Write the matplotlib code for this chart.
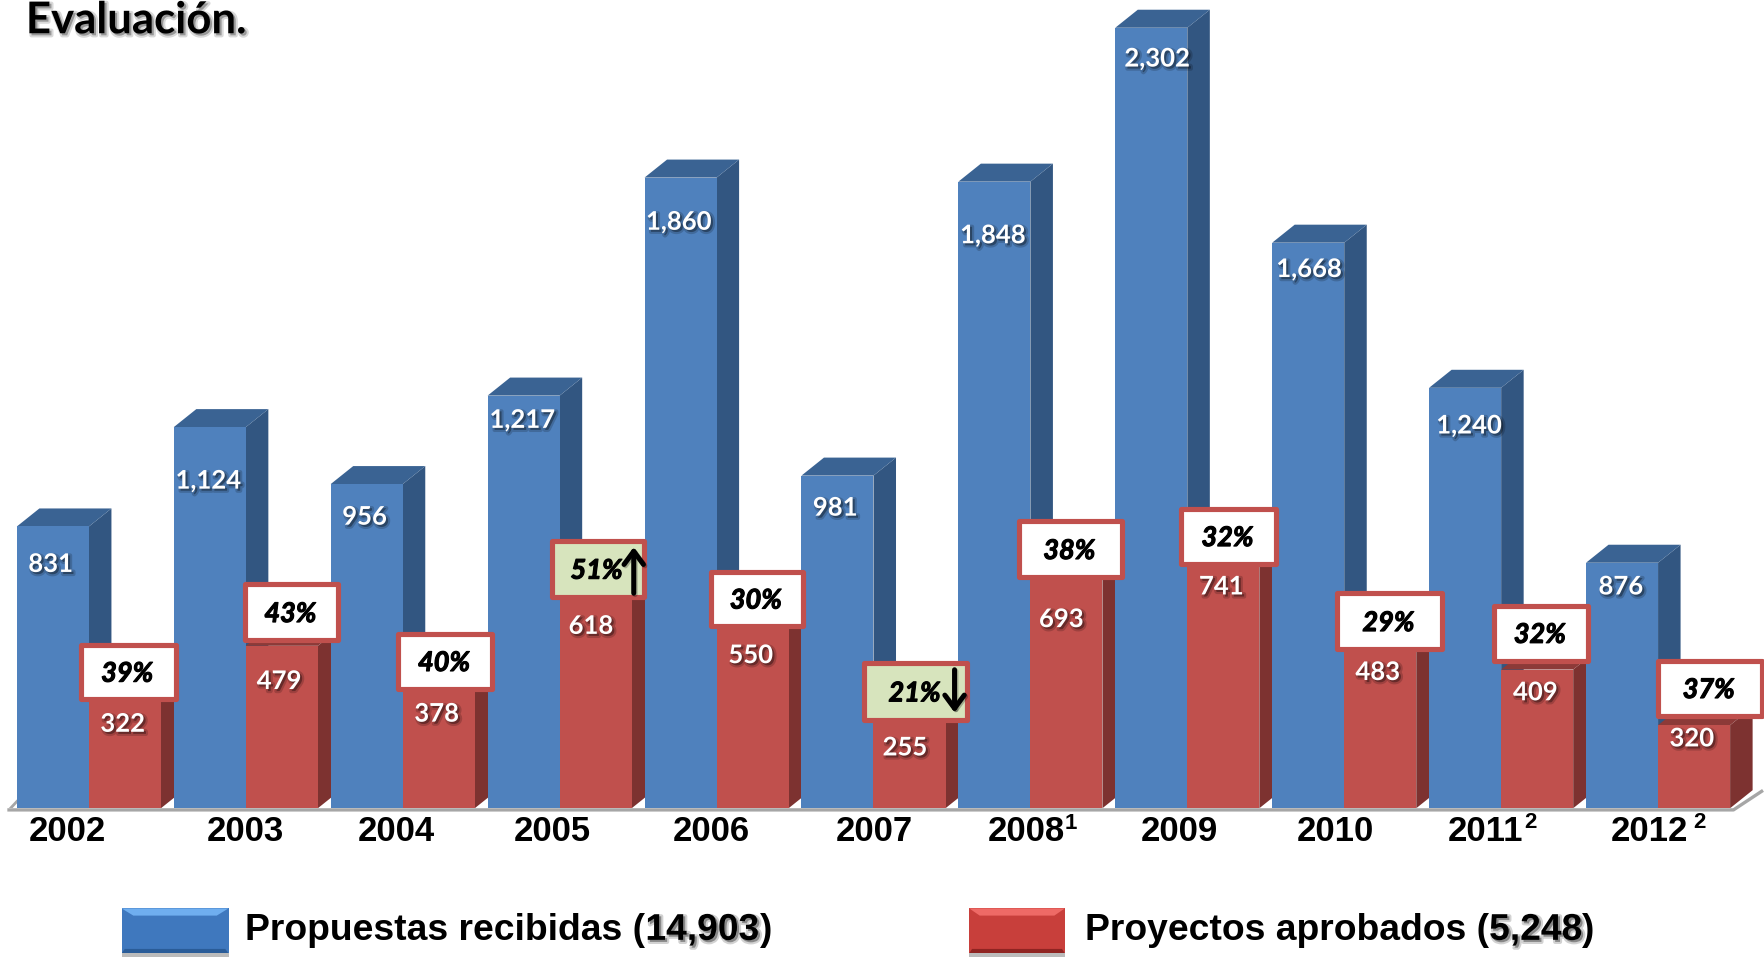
import matplotlib
matplotlib.use('Agg')
import matplotlib.pyplot as plt
import matplotlib.patheffects as pe
from matplotlib.patches import Polygon, Rectangle

years = ['2002', '2003', '2004', '2005', '2006', '2007', '2008', '2009', '2010', '2011', '2012']
propuestas = [831, 1124, 956, 1217, 1860, 981, 1848, 2302, 1668, 1240, 876]
aprobados = [322, 479, 378, 618, 550, 255, 693, 741, 483, 409, 320]
porcentajes = ['39%', '43%', '40%', '51%', '30%', '21%', '38%', '32%', '29%', '32%', '37%']

# in the original the 2012 bars are shorter than their labels say
altura_propuestas = [831, 1124, 956, 1217, 1860, 981, 1848, 2302, 1668, 1240, 724]
altura_aprobados = [322, 479, 378, 618, 550, 255, 693, 741, 483, 409, 245]

# layout, pixels of the 1568 wide view
S = 1765 / 1568
PITCH = 139.4
X0 = 79
Y0 = 718
UNIT = 0.3012
blue_lab = [(45, 501), (185, 427), (324, 459), (464, 373), (603, 197), (742, 451), (882, 209), (1028, 52), (1163, 239), (1305, 378), (1440, 521)]
red_lab = [(109, 643), (248, 605), (388, 634), (525, 556), (667, 582), (804, 664), (943, 550), (1085, 521), (1224, 597), (1364, 615), (1503, 656)]
boxes = [(72, 156, 573, 621), (218, 300, 519, 569), (354, 437, 563, 612), (490, 572, 481, 530), (632, 713, 508, 556),
         (768, 859, 589, 640), (905, 997, 463, 513), (1049, 1134, 452, 501), (1188, 1281, 527, 577), (1327, 1411, 538, 587), (1473, 1565, 587, 636)]
year_x = [60, 218, 352, 491, 632, 777, 912, 1048, 1186, 1320, 1465]

BLUE, BLUE_SIDE, BLUE_TOP = '#4F81BD', '#325681', '#3A6393'
RED, RED_SIDE, RED_TOP = '#C0504D', '#7D3230', '#8C3A38'
GREEN = '#D7E4BD'
W = 64 / PITCH
DX = 20 / PITCH
DY = 16 / UNIT
SANS = 'Liberation Sans'
CAL = 'Lato'


def dx(px):
    return (px - X0) / PITCH


def dy(py):
    return (Y0 - py) / UNIT


def shadow(color='k', a=0.35):
    return [pe.SimpleLineShadow(offset=(1.5, -1.5), shadow_color=color, alpha=a * 0.5, linewidth=3),
            pe.SimplePatchShadow(offset=(1.5, -1.5), shadow_rgbFace=color, alpha=a),
            pe.Normal()]


fig = plt.figure(figsize=(17.65, 9.58), dpi=100)
ax = fig.add_axes([0, 1 - Y0 * S / 958, 1, Y0 * S / 958])
ax.set_xlim(dx(0), dx(1568))
ax.set_ylim(0, dy(0))
for s in ax.spines.values():
    s.set_visible(False)
ax.set_yticks([])


def bar3d(x, h, front, side, top, z):
    ax.bar(x, h, W, align='edge', color=front, zorder=z + 0.2)
    ax.add_patch(Polygon([(x + W, 0), (x + W + DX, DY), (x + W + DX, h + DY), (x + W, h)], color=side, lw=0, zorder=z))
    ax.add_patch(Polygon([(x, h), (x + DX, h + DY), (x + W + DX, h + DY), (x + W, h)], color=top, lw=0, zorder=z + 0.1))


for i in range(len(years)):
    bar3d(i - W, altura_propuestas[i], BLUE, BLUE_SIDE, BLUE_TOP, 2 + i)
    bar3d(i, altura_aprobados[i], RED, RED_SIDE, RED_TOP, 2.5 + i)

# floor
ax.plot([dx(8), dx(1540), dx(1565)], [dy(719.5), dy(719.5), dy(703)], color='#A6A6A6', lw=2.4, clip_on=False, zorder=20)
ax.plot([dx(8), dx(15)], [dy(719.5), dy(712)], color='#A6A6A6', lw=2, zorder=1)

for i in range(len(years)):
    bx, by = blue_lab[i]
    ax.text(dx(bx), dy(by), f'{propuestas[i]:,}', color='white', fontsize=18.5, fontweight='bold', family=CAL,
            ha='center', va='center', zorder=30, path_effects=shadow())
    rx, ry = red_lab[i]
    ax.text(dx(rx), dy(ry), f'{aprobados[i]:,}', color='white', fontsize=18.5, fontweight='bold', family=CAL,
            ha='center', va='center', zorder=30, path_effects=shadow())
    x1, x2, y1, y2 = boxes[i]
    face = GREEN if porcentajes[i] in ('51%', '21%') else 'white'
    ax.add_patch(Rectangle((dx(x1), dy(y2)), dx(x2) - dx(x1), dy(y1) - dy(y2), facecolor=face, edgecolor=RED, lw=3.7,
                           joinstyle='round', zorder=25, clip_on=False))
    ax.text(dx((x1 + x2) / 2 - 1), dy((y1 + y2) / 2 + 1.5), porcentajes[i], color='black', fontsize=19.5, fontweight='bold',
            fontstyle='italic', family=CAL, ha='center', va='center', zorder=30,
            path_effects=[pe.withStroke(linewidth=0.8, foreground='black')])

# arrows on the highest and lowest share
arrow = dict(arrowstyle='->,head_length=0.95,head_width=0.7', color='black', lw=3.6, shrinkA=0, shrinkB=0,
             mutation_scale=10, path_effects=[pe.SimpleLineShadow(offset=(1, -1), alpha=0.25), pe.Normal()])
ax.annotate('', xy=(dx(563), dy(486)), xytext=(dx(563), dy(527)), zorder=31, arrowprops=arrow)
ax.annotate('', xy=(dx(848), dy(633)), xytext=(dx(848), dy(595)), zorder=31, arrowprops=arrow)

# year labels
ax.set_xticks([dx(p) for p in year_x])
ax.set_xticklabels(years, fontsize=25, fontweight='bold', family=SANS)
ax.tick_params(axis='x', length=0, pad=5)
ax.text(dx(951), dy(732), '1', fontsize=16, fontweight='bold', family=SANS, ha='center', va='center', clip_on=False)
ax.text(dx(1360), dy(731), '2', fontsize=16, fontweight='bold', family=SANS, ha='center', va='center', clip_on=False)
ax.text(dx(1510), dy(731), '2', fontsize=16, fontweight='bold', family=SANS, ha='center', va='center', clip_on=False)

# title
fig.text(23 * S / 1765, 1 - 18 * S / 958, 'Evaluación.', fontsize=31.5, fontweight='bold', family=CAL, va='center',
         path_effects=shadow(a=0.3))


def swatch(x1, x2, y1, y2, light, mid, dark):
    a = fig.add_axes([x1 * S / 1765, 1 - y2 * S / 958, (x2 - x1) * S / 1765, (y2 - y1) * S / 958])
    a.axis('off')
    a.set_xlim(0, 1)
    a.set_ylim(0, 1)
    a.add_patch(Rectangle((0, -0.08), 1, 1, color='#BBBBBB', lw=0, clip_on=False, zorder=1))
    a.add_patch(Rectangle((0, 0), 1, 1, color=mid, lw=0, zorder=2))
    a.add_patch(Polygon([(0, 1), (1, 1), (0.89, 0.84), (0.11, 0.84)], color=light, lw=0, zorder=3))
    a.add_patch(Polygon([(0, 0), (1, 0), (0.97, 0.1), (0.03, 0.1)], color=dark, lw=0, zorder=3))


swatch(108, 203, 807, 847, '#6FAEEF', '#3F78BE', '#2A5C98')
swatch(861, 946, 807, 847, '#EE6A66', '#C83F3B', '#8F2422')

# legend text, the totals carry a shadow
fig.canvas.draw()
renderer = fig.canvas.get_renderer()


def chain(px, parts):
    x = px * S / 1765
    for txt, fx in parts:
        t = fig.text(x, 1 - 826.5 * S / 958, txt, fontsize=26.8, fontweight='bold', family=SANS, va='center', path_effects=fx)
        x = t.get_window_extent(renderer).x1 / 1765


chain(218, [('Propuestas recibidas (', None), (f'{sum(propuestas):,}', shadow(a=0.35)), (')', None)])
chain(964, [('Proyectos aprobados (', None), (f'{sum(aprobados):,}', shadow(a=0.35)), (')', None)])

fig.savefig('out.png', dpi=100)
